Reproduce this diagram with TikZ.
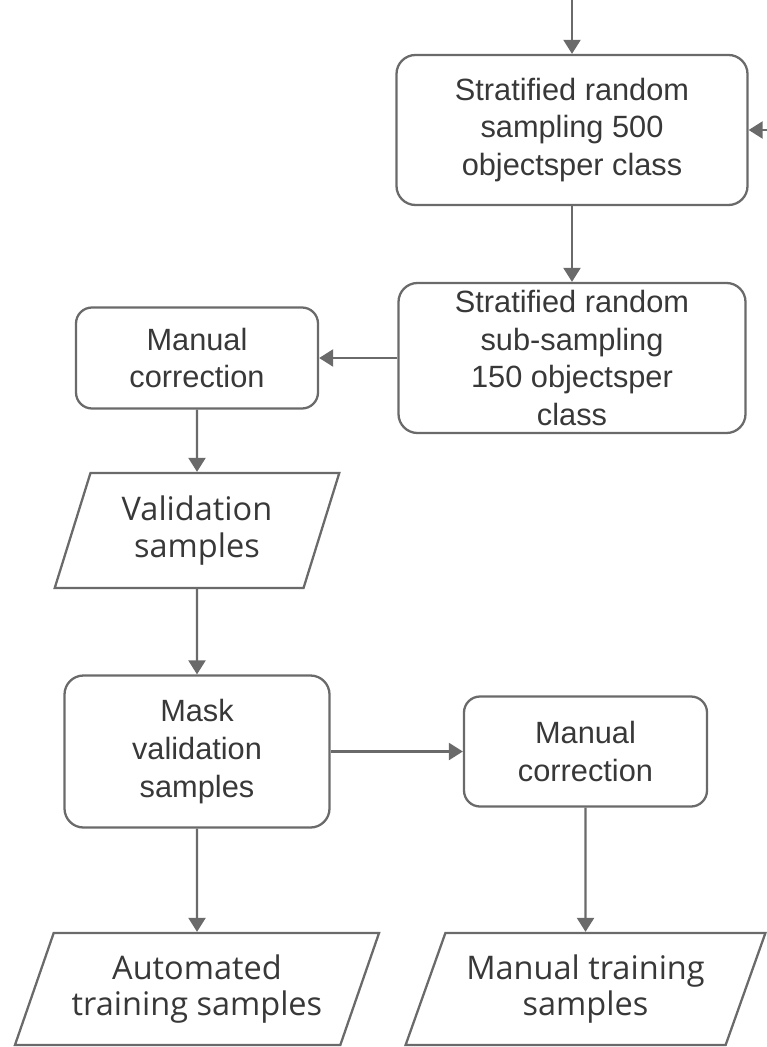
\documentclass[tikz,border=0pt]{standalone}
\usepackage{fontspec}
\setmainfont{Liberation Sans}
\newfontfamily\parafont{Open Sans}
\usetikzlibrary{arrows.meta,shapes.geometric}
\definecolor{linegray}{HTML}{6A6A6A}
\definecolor{textgray}{HTML}{383838}
\tikzset{
	procbox/.style={draw=linegray, line width=1.3pt, rounded corners=0.38cm, align=center,
		text=textgray, font=\fontsize{17.5}{21.5}\selectfont, inner sep=0pt},
	databox/.style={trapezium, trapezium stretches=true, draw=linegray, line width=1.3pt,
		align=center, text=textgray, font=\parafont\fontsize{18.5}{21}\selectfont, inner sep=0pt},
	flow/.style={draw=linegray, line width=1.3pt, -{Triangle[width=0.34cm,length=0.28cm]}}
}

\begin{document}
\begin{tikzpicture}
			%%%%% FRAME %%%%%
			\useasboundingbox (0, 0) rectangle (15.32, -20.94);
			
			%%%%% BOXES %%%%%
			\node[procbox, minimum width=7.02cm, minimum height=3.0cm] (strat) at (11.44, -2.6)
				{Stratified random\\sampling 500\\objectsper class};
			\node[procbox, minimum width=6.94cm, minimum height=3.0cm] (sub) at (11.44, -7.16)
				{Stratified random\\sub-sampling\\150 objectsper\\class};
			\node[procbox, minimum width=4.84cm, minimum height=2.02cm, rounded corners=0.32cm] (corr1) at (3.94, -7.16)
				{Manual\\correction};
			\node[databox, trapezium left angle=70, trapezium right angle=110,
				minimum width=5.7cm, minimum height=2.3cm] (valid) at (3.94, -10.61)
				{Validation\\samples};
			\node[procbox, minimum width=5.3cm, minimum height=3.04cm] (mask) at (3.94, -15.03)
				{Mask\\validation\\samples};
			\node[procbox, minimum width=4.86cm, minimum height=2.2cm, rounded corners=0.32cm] (corr2) at (11.71, -15.03)
				{Manual\\correction};
			
			%%%%% OUTPUTS %%%%%
			\node[databox, trapezium left angle=64, trapezium right angle=116,
				minimum width=7.3cm, minimum height=2.24cm] (autotr) at (3.94, -19.78)
				{Automated\\training samples};
			\node[databox, trapezium left angle=64, trapezium right angle=116,
				minimum width=7.2cm, minimum height=2.24cm] (mantr) at (11.71, -19.78)
				{Manual training\\samples};
			
			%%%%% ARROWS %%%%%
			\coordinate (entry) at (11.44, 0.1);
			\coordinate (loopin) at (15.5, -2.6);
			\draw[flow] (entry) -- (strat);
			\draw[flow] (loopin) -- (strat);
			\draw[flow] (strat) -- (sub);
			\draw[flow] (sub) -- (corr1);
			\draw[flow] (corr1) -- (valid);
			\draw[flow] (valid) -- (mask);
			\draw[flow] (mask) -- (corr2);
			\draw[flow] (mask) -- (autotr);
			\draw[flow] (corr2) -- (mantr);
\end{tikzpicture}
\end{document}
